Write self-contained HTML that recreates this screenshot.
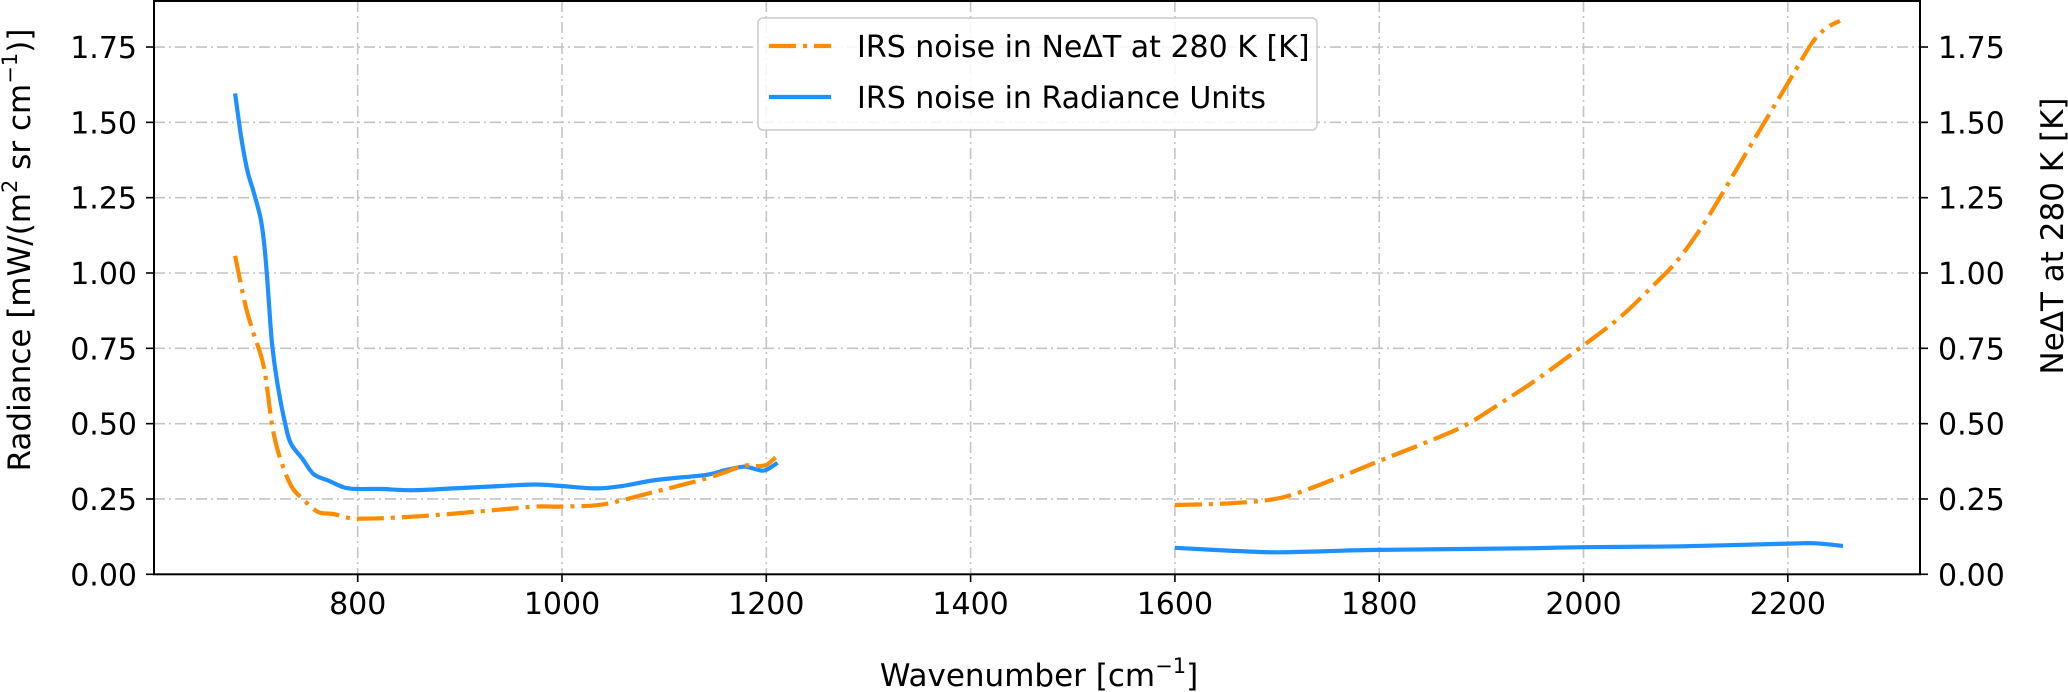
<!DOCTYPE html>
<html><head><meta charset="utf-8"><style>
html,body{margin:0;padding:0;background:#fff;}
svg{display:block;font-family:"DejaVu Sans","Liberation Sans",sans-serif;}
</style></head><body>
<svg id="chart" width="2068" height="692" viewBox="0 0 2068 692" xmlns="http://www.w3.org/2000/svg">
<g id="grid"></g>
<g id="series"></g>
<rect x="154" y="1" width="1766" height="573.3" fill="none" stroke="#000" stroke-width="2"/>
<g id="ticks"></g>
<text x="1039" y="686" font-size="31" text-anchor="middle">Wavenumber [cm<tspan font-size="21" dy="-13">−1</tspan><tspan dy="13">]</tspan></text>
<text transform="translate(30,250) rotate(-90)" font-size="31" text-anchor="middle">Radiance [mW/(m<tspan font-size="21" dy="-13">2</tspan><tspan dy="13"> sr cm</tspan><tspan font-size="21" dy="-13">−1</tspan><tspan dy="13">)]</tspan></text>
<text transform="translate(2063,236) rotate(-90)" font-size="31" text-anchor="middle">NeΔT at 280 K [K]</text>
<g>
<rect x="758" y="18" width="559" height="112" rx="5" fill="#fff" fill-opacity="0.85" stroke="#ccc" stroke-width="1.5"/>
<line x1="769" y1="46" x2="831" y2="46" stroke="#ff8c00" stroke-width="4.2" stroke-dasharray="27 7 4 7"/>
<text x="857" y="57" font-size="30">IRS noise in NeΔT at 280 K [K]</text>
<line x1="769" y1="97" x2="831" y2="97" stroke="#1e90ff" stroke-width="4.2"/>
<text x="857" y="108" font-size="30">IRS noise in Radiance Units</text>
</g>
</svg>
<script>
const xTicks = [800, 1000, 1200, 1400, 1600, 1800, 2000, 2200];
const yTicks = [0, 0.25, 0.5, 0.75, 1.0, 1.25, 1.5, 1.75];
const yTickLabels = ["0.00","0.25","0.50","0.75","1.00","1.25","1.50","1.75"];
const blueLowW = [680,686,692,698,705,709,712,716,721.5,729,734.6,746,757,772,787,800,824,854,899,940,974,1000,1033,1059,1092,1141,1160,1177,1183,1196,1203,1211];
const blueLowV = [1.596,1.45,1.34,1.27,1.18,1.08,0.954,0.77,0.632,0.50,0.434,0.383,0.332,0.31,0.288,0.283,0.283,0.279,0.286,0.293,0.298,0.293,0.285,0.293,0.313,0.330,0.346,0.357,0.355,0.344,0.352,0.370];
const blueHighW = [1600,1650,1698,1750,1800,1937,2000,2096,2201,2227,2254];
const blueHighV = [0.088,0.079,0.073,0.077,0.081,0.086,0.090,0.093,0.102,0.103,0.094];
const orangeLowW = [680,689.6,697,708,716,723,734.6,746,761,776,800,862,937,974,1000,1040,1085,1141,1177,1190,1200,1209];
const orangeLowV = [1.057,0.90,0.81,0.69,0.50,0.397,0.295,0.251,0.207,0.20,0.185,0.193,0.214,0.225,0.225,0.232,0.269,0.318,0.359,0.359,0.363,0.388];
const orangeHighW = [1600,1656,1705,1754,1800,1852,1885,1918,1954,2000,2035,2067,2092,2117,2138,2166,2201,2223,2237,2251];
const orangeHighV = [0.230,0.236,0.255,0.313,0.376,0.446,0.496,0.566,0.646,0.76,0.851,0.954,1.042,1.159,1.276,1.437,1.635,1.76,1.811,1.837];

const NS = "http://www.w3.org/2000/svg";
const X0 = 357.7, XW0 = 800, XK = 1.0215;
const Y0 = 574.3, YK = 301.3;
function xs(w){ return X0 + (w - XW0) * XK; }
function ys(v){ return Y0 - v * YK; }
function mk(tag, attrs, parent){
  const el = document.createElementNS(NS, tag);
  for (const k in attrs) el.setAttribute(k, attrs[k]);
  parent.appendChild(el);
  return el;
}
const grid = document.getElementById('grid');
const ticks = document.getElementById('ticks');
const series = document.getElementById('series');

xTicks.forEach(t => {
  const x = xs(t);
  const g = mk('line', {x1:x, y1:1, x2:x, y2:574.3, stroke:'#c4c4c4', 'stroke-width':1.6, 'stroke-dasharray':'11 4 2 4'}, grid);
  
  
  const tk = mk('line', {x1:x, y1:574.3, x2:x, y2:582, stroke:'#000', 'stroke-width':1.6}, ticks);
  
  
  const lb = mk('text', {x:x, y:614, 'font-size':30, 'text-anchor':'middle'}, ticks);
  lb.textContent = t;
  
  
});
yTicks.forEach((t, i) => {
  const y = ys(t);
  if (t > 0) {
    const g = mk('line', {x1:154, y1:y, x2:1920, y2:y, stroke:'#c4c4c4', 'stroke-width':1.6, 'stroke-dasharray':'11 4 2 4'}, grid);
    
    
  }
  const tl = mk('line', {x1:146, y1:y, x2:154, y2:y, stroke:'#000', 'stroke-width':1.6}, ticks);
  
  
  const tr = mk('line', {x1:1920, y1:y, x2:1928, y2:y, stroke:'#000', 'stroke-width':1.6}, ticks);
  
  
  const ll = mk('text', {x:137, y:y + 11, 'font-size':30, 'text-anchor':'end'}, ticks);
  ll.textContent = yTickLabels[i];
  
  
  const rl = mk('text', {x:1938, y:y + 11, 'font-size':30}, ticks);
  rl.textContent = yTickLabels[i];
  
  
});

function smoothPath(ws, vs){
  const p = ws.map((w, i) => [xs(w), ys(vs[i])]);
  let d = 'M' + p[0][0].toFixed(1) + ',' + p[0][1].toFixed(1);
  for (let i = 0; i < p.length - 1; i++){
    const a = p[Math.max(0, i-1)], b = p[i], c = p[i+1], e = p[Math.min(p.length-1, i+2)];
    const c1 = [b[0] + (c[0]-a[0])/6, b[1] + (c[1]-a[1])/6];
    const c2 = [c[0] - (e[0]-b[0])/6, c[1] - (e[1]-b[1])/6];
    d += ' C' + c1[0].toFixed(1) + ',' + c1[1].toFixed(1) + ' ' + c2[0].toFixed(1) + ',' + c2[1].toFixed(1) + ' ' + c[0].toFixed(1) + ',' + c[1].toFixed(1);
  }
  return d;
}
const b1 = mk('path', {d:smoothPath(blueLowW, blueLowV), fill:'none', stroke:'#1e90ff', 'stroke-width':4.2}, series);


const b2 = mk('path', {d:smoothPath(blueHighW, blueHighV), fill:'none', stroke:'#1e90ff', 'stroke-width':4.2}, series);


const o1 = mk('path', {d:smoothPath(orangeLowW, orangeLowV), fill:'none', stroke:'#ff8c00', 'stroke-width':4.2, 'stroke-dasharray':'27 7 4 7'}, series);


const o2 = mk('path', {d:smoothPath(orangeHighW, orangeHighV), fill:'none', stroke:'#ff8c00', 'stroke-width':4.2, 'stroke-dasharray':'27 7 4 7'}, series);


</script>
</body></html>
